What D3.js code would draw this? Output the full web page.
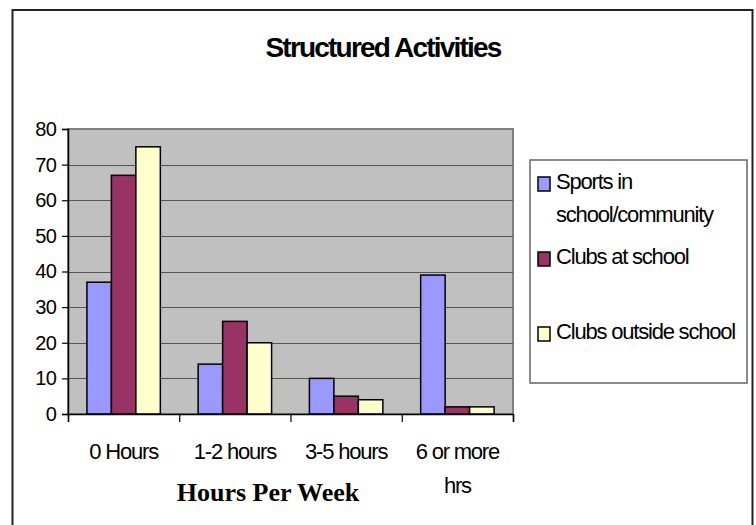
<!DOCTYPE html>
<html>
<head>
<meta charset="utf-8">
<script src="https://cdn.jsdelivr.net/npm/d3@7"></script>
<style>
body { margin: 0; background: #fff; }
text { font-family: "Liberation Sans", Arial, sans-serif; fill: #000; }
</style>
</head>
<body>
<script>
// data
var categories = ["0 Hours", "1-2 hours", "3-5 hours", "6 or more hrs"];
var categoryLines = [["0 Hours"], ["1-2 hours"], ["3-5 hours"], ["6 or more", "hrs"]];
var seriesNames = ["Sports in school/community", "Clubs at school", "Clubs outside school"];
var legendLines = [["Sports in", "school/community"], ["Clubs at school"], ["Clubs outside school"]];
var sports = [37, 14, 10, 39];
var clubsSchool = [67, 26, 5, 2];
var clubsOutside = [75, 20, 4, 2];
var yTicks = [0, 10, 20, 30, 40, 50, 60, 70, 80];
var colors = ["#9999ff", "#993366", "#ffffcc"];

var values = [sports, clubsSchool, clubsOutside];

var w = 756, h = 525;
var svg = d3.select("body").append("svg").attr("width", w).attr("height", h);

// outer chart border (no bottom edge visible)
svg.append("path")
    .attr("d", "M12.5,530 V10 H752.5 V530")
    .attr("fill", "none")
    .attr("stroke", "#222")
    .attr("stroke-width", 2);

svg.append("text")
    .attr("x", 383).attr("y", 57)
    .attr("text-anchor", "middle")
    .style("font-size", "28px")
    .style("font-weight", "bold")
    .style("letter-spacing", "-1.8px")
    .text("Structured Activities");

var plotLeft = 68, plotRight = 513, plotTop = 129, plotBottom = 414;

var x = d3.scaleBand().domain(categories).range([plotLeft, plotRight]).paddingInner(0.34).paddingOuter(0.17);
var x1 = d3.scaleBand().domain(seriesNames).range([0, x.bandwidth()]);
var y = d3.scaleLinear().domain([0, 80]).range([plotBottom, plotTop]);

// plot area
svg.append("rect")
    .attr("x", plotLeft).attr("y", plotTop)
    .attr("width", plotRight - plotLeft).attr("height", plotBottom - plotTop)
    .attr("fill", "#c0c0c0")
    .attr("stroke", "#808080")
    .attr("stroke-width", 2);

svg.selectAll("line.grid")
    .data(yTicks.slice(1, -1))
    .enter()
    .append("line")
    .attr("class", "grid")
    .attr("x1", plotLeft).attr("x2", plotRight)
    .attr("y1", function(d) { return Math.round(y(d)) + 0.5; })
    .attr("y2", function(d) { return Math.round(y(d)) + 0.5; })
    .attr("stroke", "#555")
    .attr("stroke-width", 1.2);

// bars
var rows = [];
for (var s = 0; s < seriesNames.length; s++) {
    for (var c = 0; c < categories.length; c++) {
        rows.push({ series: seriesNames[s], cat: categories[c], v: values[s][c], color: colors[s] });
    }
}
svg.selectAll("rect.bar")
    .data(rows)
    .enter()
    .append("rect")
    .attr("class", "bar")
    .attr("x", function(d) { return x(d.cat) + x1(d.series); })
    .attr("y", function(d) { return y(d.v); })
    .attr("width", x1.bandwidth())
    .attr("height", function(d) { return y(0) - y(d.v); })
    .attr("fill", function(d) { return d.color; })
    .attr("stroke", "#000")
    .attr("stroke-width", 1.5);

// y axis
var yAxis = svg.append("g")
    .attr("transform", "translate(" + plotLeft + ",0)")
    .call(d3.axisLeft(y).tickValues(yTicks).tickSize(6).tickPadding(6));
yAxis.select(".domain").attr("stroke", "#000").attr("stroke-width", 1.5);
yAxis.selectAll(".tick line").attr("stroke", "#000").attr("stroke-width", 1.2);
yAxis.selectAll(".tick text")
    .style("font-size", "20px")
    .style("letter-spacing", "-0.8px")
    .style("font-family", '"Liberation Sans", Arial, sans-serif');

// x axis: ticks at category boundaries
var xb = d3.scaleLinear().domain([0, categories.length]).range([plotLeft, plotRight]);
var xAxis = svg.append("g")
    .attr("transform", "translate(0," + plotBottom + ")")
    .call(d3.axisBottom(xb).ticks(categories.length).tickSize(8).tickFormat(""));
xAxis.select(".domain").attr("stroke", "#000").attr("stroke-width", 1.5);
xAxis.selectAll(".tick line").attr("stroke", "#000").attr("stroke-width", 1.2);

var catLabel = svg.selectAll("text.cat")
    .data(categories)
    .enter()
    .append("text")
    .attr("class", "cat")
    .attr("text-anchor", "middle")
    .attr("y", 459)
    .style("font-size", "22px")
    .style("letter-spacing", "-1.2px");
catLabel.selectAll("tspan")
    .data(function(d, i) { return categoryLines[i].map(function(t) { return { t: t, cx: x(d) + x.bandwidth() / 2 }; }); })
    .enter()
    .append("tspan")
    .attr("x", function(d) { return d.cx; })
    .attr("dy", function(d, i) { return i === 0 ? 0 : 34; })
    .text(function(d) { return d.t; });

svg.append("text")
    .attr("x", 268).attr("y", 501)
    .attr("text-anchor", "middle")
    .style("font-family", '"Liberation Serif", "Times New Roman", serif')
    .style("font-size", "26px")
    .style("font-weight", "bold")
    .text("Hours Per Week");

// legend
var legend = svg.append("g");
legend.append("rect")
    .attr("x", 530).attr("y", 160)
    .attr("width", 217).attr("height", 223)
    .attr("fill", "#fff")
    .attr("stroke", "#666")
    .attr("stroke-width", 1.5);

var item = legend.selectAll("g.item")
    .data(seriesNames)
    .enter()
    .append("g")
    .attr("class", "item")
    .attr("transform", function(d, i) { return "translate(538," + (177 + i * 75) + ")"; });
item.append("rect")
    .attr("width", 12).attr("height", 14)
    .attr("fill", function(d, i) { return colors[i]; })
    .attr("stroke", "#000")
    .attr("stroke-width", 1.5);
item.append("text")
    .attr("y", 12)
    .style("font-size", "22px")
    .style("letter-spacing", "-1.2px")
    .selectAll("tspan")
    .data(function(d, i) { return legendLines[i]; })
    .enter()
    .append("tspan")
    .attr("x", 18)
    .attr("dy", function(d, i) { return i === 0 ? 0 : 33; })
    .text(function(d) { return d; });
</script>
</body>
</html>
